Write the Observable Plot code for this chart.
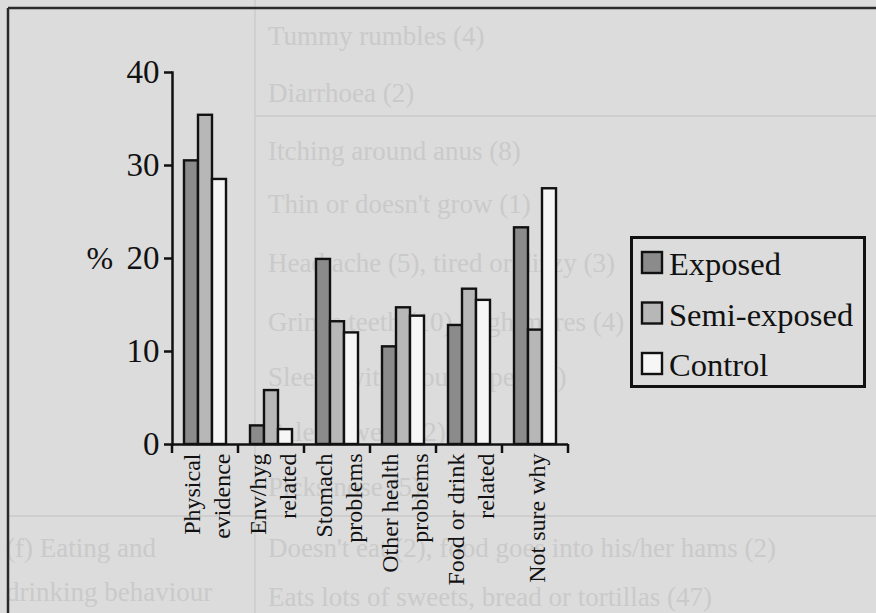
<!DOCTYPE html>
<html>
<head>
<meta charset="utf-8">
<script src="https://cdn.jsdelivr.net/npm/d3@7"></script>
<script src="https://cdn.jsdelivr.net/npm/@observablehq/plot@0.6"></script>
<style>
  html, body { margin: 0; padding: 0; background: #dcdcdc; }
  #wrap { position: relative; width: 876px; height: 613px; overflow: hidden; background: #dcdcdc;
          font-family: "Liberation Serif", "Times New Roman", serif; }
  #wrap > svg, #wrap > div { position: absolute; left: 0; top: 0; }
</style>
</head>
<body>
<div id="wrap"></div>
<script>
// ---- data ----
const categories = ["Physical\nevidence", "Env/hyg\nrelated", "Stomach\nproblems",
                    "Other health\nproblems", "Food or drink\nrelated", "Not sure why"];
const groups = ["Exposed", "Semi-exposed", "Control"];
const exposed     = [30.5, 2.0, 19.9, 10.5, 12.8, 23.3];
const semiExposed = [35.4, 5.8, 13.2, 14.7, 16.7, 12.3];
const control     = [28.5, 1.6, 12.0, 13.8, 15.5, 27.5];
const yTicks = [0, 10, 20, 30, 40];
const fills = ["#8b8b8b", "#b7b7b7", "#f6f6f6"];
// faint text showing through from the page behind the figure
const bgLeftCol = ["(f) Eating and", "drinking behaviour"];
const bgRightCol = ["Tummy rumbles (4)", "Diarrhoea (2)", "Itching around anus (8)",
  "Thin or doesn't grow (1)", "Head ache (5), tired or dizzy (3)", "Grinds teeth (10), nightmares (4)",
  "Sleeps with mouth open (3)", "Pale or weak (2)", "Picks nose (5)",
  "Doesn't eat (2), food goes into his/her hams (2)", "Eats lots of sweets, bread or tortillas (47)"];

const seriesValues = [exposed, semiExposed, control];
const rows = categories.flatMap((c, i) => groups.map((g, j) => ({category: c, group: g, value: seriesValues[j][i]})));

const wrap = document.getElementById("wrap");
const W = 876, H = 613;

// ---- background layer (scanned page) ----
const bg = d3.select(wrap).append("svg").attr("width", W).attr("height", H);
bg.append("line").attr("x1", 255).attr("x2", 255).attr("y1", 0).attr("y2", H).attr("stroke", "#d0d0d0").attr("stroke-width", 2);
bg.append("line").attr("x1", 255).attr("x2", W).attr("y1", 116).attr("y2", 116).attr("stroke", "#cecece").attr("stroke-width", 2);
bg.append("line").attr("x1", 8).attr("x2", W).attr("y1", 516).attr("y2", 516).attr("stroke", "#cecece").attr("stroke-width", 2);
const rightY = [45, 102, 160, 213, 272, 331, 386, 441, 496, 557, 606];
bg.selectAll("text.r").data(bgRightCol).join("text")
  .attr("x", 268).attr("y", (d, i) => rightY[i])
  .attr("font-size", 27).attr("fill", "#cacaca").text(d => d);
bg.selectAll("text.l").data(bgLeftCol).join("text")
  .attr("x", 6).attr("y", (d, i) => [557, 601][i])
  .attr("font-size", 27).attr("fill", "#cacaca").text(d => d);
bg.append("line").attr("x1", 8).attr("x2", W).attr("y1", 8).attr("y2", 8).attr("stroke", "#2a2a2a").attr("stroke-width", 2.5);
bg.append("line").attr("x1", 8).attr("x2", 8).attr("y1", 8).attr("y2", H).attr("stroke", "#2a2a2a").attr("stroke-width", 2.5);

// ---- chart ----
const chart = Plot.plot({
  width: W, height: H,
  marginLeft: 172, marginRight: 308, marginTop: 72, marginBottom: 169,
  style: {background: "transparent", fontFamily: "'Liberation Serif', 'Times New Roman', serif", color: "#111", overflow: "visible"},
  fx: {domain: categories, padding: 0, axis: null},
  x: {domain: groups, paddingInner: 0, paddingOuter: 0.7, axis: null},
  y: {domain: [0, 40], axis: null},
  color: {domain: groups, range: fills},
  marks: [
    Plot.barY(rows, {fx: "category", x: "group", y: "value", fill: "group", stroke: "#111", strokeWidth: 2.4}),
    Plot.ruleY([0], {stroke: "#111", strokeWidth: 2.5}),
    Plot.frame({anchor: "left", facetAnchor: "left", stroke: "#111", strokeWidth: 2.5}),
    Plot.axisY({ticks: yTicks, tickSize: 8, tickPadding: 5, fontSize: 33, label: null, strokeWidth: 2.5, tickFormat: d => String(d)}),
    Plot.text(categories, {fx: d => d, text: d => d, frameAnchor: "bottom", rotate: -90,
      textAnchor: "end", lineAnchor: "middle", lineHeight: 1.25, fontSize: 24, dy: 9, fill: "#111"}),
    Plot.text(["%"], {frameAnchor: "left", facetAnchor: "left", text: d => d, dx: -86, fontSize: 32, fill: "#111"})
  ]
});
wrap.appendChild(chart);

// x-axis ticks at category band boundaries, from Plot's fx scale
const fxs = chart.scale("fx");
const y0 = chart.scale("y").apply(0);
const bounds = categories.map(c => fxs.apply(c)).concat([fxs.apply(categories[categories.length - 1]) + fxs.bandwidth]);
d3.select(chart).append("g").selectAll("line").data(bounds).join("line")
  .attr("x1", d => d).attr("x2", d => d).attr("y1", y0).attr("y2", y0 + 9)
  .attr("stroke", "#111").attr("stroke-width", 2.5);

// ---- legend (inside plot area, right) ----
const lg = d3.select(wrap).append("svg").attr("width", 240).attr("height", 156)
  .style("left", "629px").style("top", "235px");
lg.append("rect").attr("x", 2.5).attr("y", 2.5).attr("width", 233).attr("height", 149)
  .attr("fill", "#dcdcdc").attr("stroke", "#111").attr("stroke-width", 3);
const row = lg.selectAll("g").data(groups).join("g")
  .attr("transform", (d, i) => `translate(0, ${i * 50.5})`);
row.append("rect").attr("x", 13).attr("y", 17).attr("width", 20).attr("height", 21)
  .attr("fill", (d, i) => fills[i]).attr("stroke", "#111").attr("stroke-width", 2.4);
row.append("text").attr("x", 40).attr("y", 40).attr("font-size", 32.5).attr("fill", "#111").text(d => d);
</script>
</body>
</html>
